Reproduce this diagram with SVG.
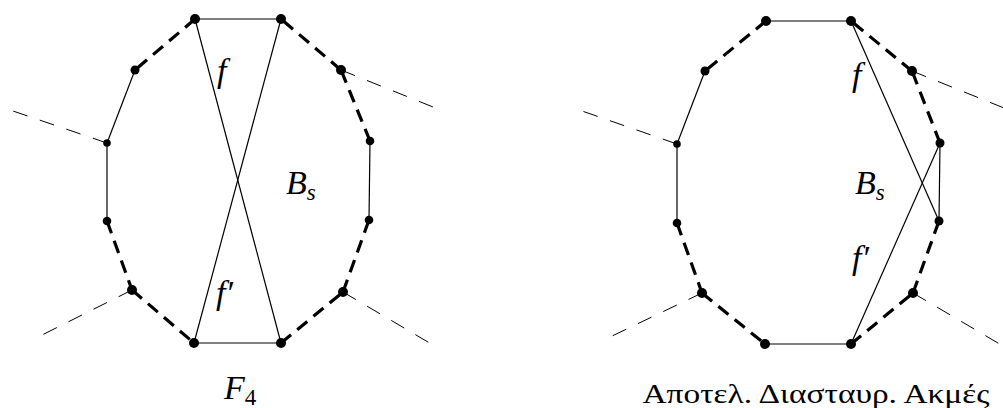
<svg xmlns="http://www.w3.org/2000/svg" width="1003" height="408" viewBox="0 0 1003 408">
<style>
.bg{fill:#fff}
.s{stroke:#000;stroke-width:1.2;fill:none}
.d{stroke:#000;stroke-width:3.2;stroke-dasharray:13 8;fill:none}
.e{stroke:#000;stroke-width:1;stroke-dasharray:15 13;fill:none}
.v{fill:#000}
.m{font-family:"Liberation Serif",serif;font-style:italic;font-size:34px;fill:#000}
.sub{font-family:"Liberation Serif",serif;font-style:italic;font-size:23px}
.sub0{font-family:"Liberation Serif",serif;font-style:normal;font-size:23px}
.cap{font-family:"Liberation Serif",serif;font-size:28px;fill:#000}
</style>
<rect class="bg" x="0" y="0" width="1003" height="408"/>
<g id="connectors">
<line class="e" x1="107" y1="143" x2="10" y2="110"/>
<line class="e" x1="341" y1="70" x2="443" y2="111"/>
<line class="e" x1="132" y1="290" x2="40" y2="336"/>
<line class="e" x1="343" y1="292" x2="433" y2="345"/>
<line class="s" x1="195" y1="19" x2="281" y2="19"/>
<line class="d" x1="195" y1="19" x2="135" y2="70"/>
<line class="s" x1="135" y1="70" x2="107" y2="143"/>
<line class="s" x1="107" y1="143" x2="107" y2="221"/>
<line class="d" x1="107" y1="221" x2="132" y2="290"/>
<line class="d" x1="132" y1="290" x2="194" y2="343"/>
<line class="s" x1="194" y1="343" x2="281" y2="343"/>
<line class="d" x1="281" y1="343" x2="343" y2="292"/>
<line class="d" x1="343" y1="292" x2="369" y2="220"/>
<line class="s" x1="369" y1="220" x2="370" y2="141"/>
<line class="d" x1="370" y1="141" x2="341" y2="70"/>
<line class="d" x1="341" y1="70" x2="281" y2="19"/>
<line class="s" x1="195" y1="19" x2="281" y2="343"/>
<line class="s" x1="281" y1="19" x2="194" y2="343"/>
<line class="e" x1="677" y1="144" x2="582" y2="111"/>
<line class="e" x1="912" y1="71" x2="1014" y2="112"/>
<line class="e" x1="702" y1="293" x2="610" y2="337"/>
<line class="e" x1="913" y1="293" x2="1003" y2="346"/>
<line class="s" x1="766" y1="21" x2="851" y2="21"/>
<line class="d" x1="766" y1="21" x2="705" y2="71"/>
<line class="s" x1="705" y1="71" x2="677" y2="144"/>
<line class="s" x1="677" y1="144" x2="677" y2="223"/>
<line class="d" x1="677" y1="223" x2="702" y2="293"/>
<line class="d" x1="702" y1="293" x2="765" y2="344"/>
<line class="s" x1="765" y1="344" x2="851" y2="344"/>
<line class="d" x1="851" y1="344" x2="913" y2="293"/>
<line class="d" x1="913" y1="293" x2="939" y2="221"/>
<line class="s" x1="939" y1="221" x2="940" y2="143"/>
<line class="d" x1="940" y1="143" x2="912" y2="71"/>
<line class="d" x1="912" y1="71" x2="851" y2="21"/>
<line class="s" x1="851" y1="21" x2="939" y2="221"/>
<line class="s" x1="851" y1="344" x2="940" y2="143"/>
</g>
<g id="left-vertices">
<circle class="v" cx="195" cy="19" r="5"/>
<circle class="v" cx="281" cy="19" r="5"/>
<circle class="v" cx="135" cy="70" r="4.5"/>
<circle class="v" cx="341" cy="70" r="5"/>
<circle class="v" cx="107" cy="143" r="3.8"/>
<circle class="v" cx="370" cy="141" r="4.3"/>
<circle class="v" cx="107" cy="221" r="4.3"/>
<circle class="v" cx="369" cy="220" r="4.3"/>
<circle class="v" cx="132" cy="290" r="5"/>
<circle class="v" cx="343" cy="292" r="5"/>
<circle class="v" cx="194" cy="343" r="5"/>
<circle class="v" cx="281" cy="343" r="5"/>
</g>
<g id="right-vertices">
<circle class="v" cx="766" cy="21" r="5"/>
<circle class="v" cx="851" cy="21" r="5"/>
<circle class="v" cx="705" cy="71" r="4.5"/>
<circle class="v" cx="912" cy="71" r="5"/>
<circle class="v" cx="677" cy="144" r="3.8"/>
<circle class="v" cx="940" cy="143" r="4.5"/>
<circle class="v" cx="677" cy="223" r="4.3"/>
<circle class="v" cx="939" cy="221" r="4.5"/>
<circle class="v" cx="702" cy="293" r="5"/>
<circle class="v" cx="913" cy="293" r="5"/>
<circle class="v" cx="765" cy="344" r="5"/>
<circle class="v" cx="851" cy="344" r="5"/>
</g>
<g id="left-labels">
<text class="m" x="217" y="82">f</text>
<text class="m" x="286" y="194">B<tspan class="sub" dy="6">s</tspan></text>
<text class="m" x="216" y="304">f′</text>
<text class="m" x="224" y="399">F<tspan class="sub0" dy="6">4</tspan></text>
</g>
<g id="right-labels">
<text class="m" x="852" y="86">f</text>
<text class="m" x="855" y="194">B<tspan class="sub" dy="6">s</tspan></text>
<text class="m" x="852" y="269">f′</text>
<text class="cap" x="816" y="403" text-anchor="middle" textLength="347" lengthAdjust="spacingAndGlyphs">Αποτελ. Διασταυρ. Ακμές</text>
</g>
</svg>
